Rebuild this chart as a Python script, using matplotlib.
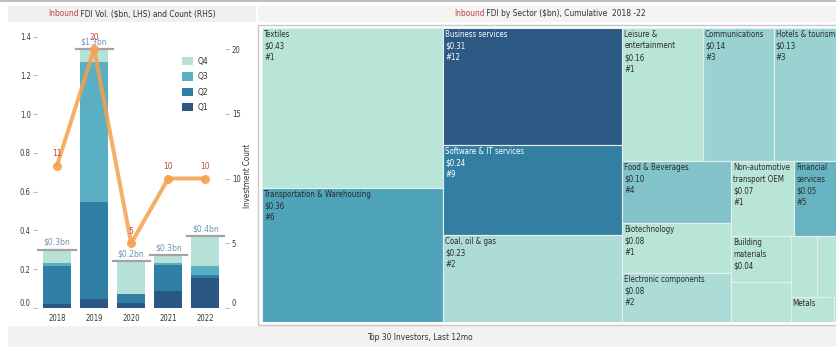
import os
import matplotlib
matplotlib.use('Agg')
import matplotlib.pyplot as plt
from matplotlib import font_manager as fm
from matplotlib.patches import Rectangle, Patch
from matplotlib.colors import LinearSegmentedColormap, Normalize
import numpy as np

# ---------------- font choice (prefer a narrow face like the reference) ----------------
def pick_font():
    prefs = ['liberationsansnarrow-regular', 'dejavusanscondensed.ttf', 'robotocondensed-regular',
             'opensans_condensed-regular', 'opensans-condensedregular', 'notosans-condensed.',
             'notosans-condensed-regular', 'opensans-condensed']
    entries = fm.fontManager.ttflist
    for p in prefs:
        for e in entries:
            if p in os.path.basename(e.fname).lower():
                return e
    for e in entries:
        if e.stretch in ('condensed', 'semi-condensed') and e.style == 'normal' and e.weight in (400, 'normal', 'regular'):
            return e
    return None


fe = pick_font()
if fe is not None:
    plt.rcParams['font.family'] = [fe.name, 'DejaVu Sans']
    plt.rcParams['font.stretch'] = fe.stretch
else:
    plt.rcParams['font.family'] = ['Liberation Sans', 'DejaVu Sans']

# ---------------- data ----------------
years = ['2018', '2019', '2020', '2021', '2022']
q1 = [0.020, 0.047, 0.028, 0.086, 0.155]
q2 = [0.195, 0.500, 0.042, 0.138, 0.015]
q3 = [0.015, 0.720, 0.000, 0.006, 0.045]
q4 = [0.070, 0.067, 0.170, 0.042, 0.155]
total_labels = ['$0.3bn', '$1.3bn', '$0.2bn', '$0.3bn', '$0.4bn']
inv_counts = [11, 20, 5, 10, 10]
left_ticks = [0.0, 0.2, 0.4, 0.6, 0.8, 1.0, 1.2, 1.4]
right_ticks = [0, 5, 10, 15, 20]

sectors = ['Textiles', 'Transportation & Warehousing', 'Business services',
           'Software & IT services', 'Coal, oil & gas', 'Leisure &\nentertainment',
           'Communications', 'Hotels & tourism', 'Food & Beverages', 'Biotechnology',
           'Electronic components', 'Non-automotive\ntransport OEM', 'Financial\nservices',
           'Building\nmaterials', '', '', '', 'Metals', '']
sector_values = [0.43, 0.36, 0.31, 0.24, 0.23, 0.16, 0.14, 0.13, 0.10, 0.08, 0.08,
                 0.07, 0.05, 0.04, 0.035, 0.024, 0.020, 0.016, 0.002]
sector_counts = [1, 6, 12, 9, 2, 1, 3, 3, 4, 1, 2, 1, 5, 1, 1, 1, 1, 1, 1]

# ---------------- style ----------------
Q_COLORS = ['#2a5783', '#2f7ea4', '#5bafc2', '#b5e1d6']
LINE_C = '#f6a04d'
RED = '#c0454a'
DARK = '#333333'
W_PX, H_PX = 837, 347

fig = plt.figure(figsize=(W_PX / 100, H_PX / 100), dpi=100)
fig.patch.set_facecolor('white')
renderer = fig.canvas.get_renderer()


def text_w(s, fs):
    t = fig.text(0, 0, s, fontsize=fs)
    w = t.get_window_extent(renderer).width
    t.remove()
    return w


# font sizes fitted to the widths of texts in the reference
FS = min(8.0, 10 * 168 / text_w('Inbound FDI Vol. ($bn, LHS) and Count (RHS)', 10))
FS_T = min(7.5, 10 * 108 / text_w('Transportation & Warehousing', 10))
FS_TICK = min(7.8, 10 * 17.5 / text_w('2018', 10))
FS_LBL = min(8.0, 10 * 26.5 / text_w('$0.3bn', 10))


def px(x0, y0, x1, y1):
    return [x0 / W_PX, 1 - y1 / H_PX, (x1 - x0) / W_PX, (y1 - y0) / H_PX]


def frect(x0, y0, x1, y1, **kw):
    b = px(x0, y0, x1, y1)
    fig.add_artist(Rectangle((b[0], b[1]), b[2], b[3], transform=fig.transFigure, **kw))


# background bands
fig.add_artist(plt.Line2D([0, 1], [1 - 1 / H_PX] * 2, transform=fig.transFigure, color='#b0b0b0', lw=1.2))
frect(8, 6, 256, 22, facecolor='#f0f0f0', edgecolor='none', zorder=0)
frect(258, 6, 837, 22, facecolor='#f3f3f3', edgecolor='none', zorder=0)
frect(8, 326, 837, 347, facecolor='#f2f2f2', edgecolor='none', zorder=0)
frect(258, 25, 842, 325, facecolor='white', edgecolor='#c8c8c8', lw=1.0, zorder=0)


def two_tone(cx, cy, first, rest, fs):
    t1 = fig.text(0, 0, first, color=RED, fontsize=fs, va='center', ha='left')
    t2 = fig.text(0, 0, rest, color=DARK, fontsize=fs, va='center', ha='left')
    w1 = t1.get_window_extent(renderer).width
    w2 = t2.get_window_extent(renderer).width
    x0 = cx - (w1 + w2) / 2
    t1.set_position((x0 / W_PX, 1 - cy / H_PX))
    t2.set_position(((x0 + w1) / W_PX, 1 - cy / H_PX))


two_tone(132, 14, 'Inbound', ' FDI Vol. ($bn, LHS) and Count (RHS)', FS)
two_tone(550, 14, 'Inbound', ' FDI by Sector ($bn), Cumulative  2018 -22', FS)
fig.text(420 / W_PX, 1 - 337 / H_PX, 'Top 30 Investors, Last 12mo', fontsize=FS,
         color=DARK, ha='center', va='center')

# ---------------- left chart ----------------
ax = fig.add_axes(px(37, 27, 225, 308))
ax.set_facecolor('none')
x = np.arange(len(years))
bottom = np.zeros(len(years))
for vals, c in zip([q1, q2, q3, q4], Q_COLORS):
    ax.bar(x, vals, width=0.76, bottom=bottom, color=c, edgecolor='none', zorder=2)
    bottom += np.array(vals)
for xi, tot, lab in zip(x, bottom, total_labels):
    ax.plot([xi - 0.5, xi + 0.5], [tot, tot], color='#a3a3a3', lw=1.6, zorder=3)
    ax.annotate(lab, (xi, tot), xytext=(0, 7.5), textcoords='offset pixels', ha='center',
                va='center', fontsize=FS_LBL, color='#7192b5', zorder=4)
ax.set_xlim(-0.54, 4.53)
ax.set_ylim(0, 1.45)
ax.set_yticks(left_ticks)
ax.set_yticklabels([f'{t:.1f}' for t in left_ticks])
ax.set_xticks(x)
ax.set_xticklabels(years)
for s in ax.spines.values():
    s.set_visible(False)
ax.tick_params(axis='y', length=3, width=0.8, color='#bbbbbb', labelsize=FS_TICK, labelcolor='#3a3a3a', pad=1.5)
ax.tick_params(axis='x', length=0, labelsize=FS_TICK, labelcolor=DARK, pad=4)
ax.get_yticklabels()[0].set_va('bottom')

ax.legend(handles=[Patch(facecolor=c, edgecolor='none') for c in Q_COLORS[::-1]],
          labels=['Q4', 'Q3', 'Q2', 'Q1'], loc='upper left', bbox_to_anchor=(0.74, 0.915),
          frameon=False, fontsize=FS_LBL, handlelength=1.3, handleheight=1.15,
          handletextpad=0.5, labelspacing=0.75, borderpad=0.2, labelcolor=DARK)

ax2 = ax.twinx()
ax2.set_ylim(0, 21.7)
ax2.set_yticks(right_ticks)
for s in ax2.spines.values():
    s.set_visible(False)
ax2.tick_params(axis='y', length=3, width=0.8, color='#bbbbbb', labelsize=FS_TICK, labelcolor='#3a3a3a', pad=2)
ax2.get_yticklabels()[0].set_va('bottom')
ax2.plot(x, inv_counts, color=LINE_C, lw=2.9, alpha=0.85, marker='o', markersize=5.5,
         solid_capstyle='round', zorder=5)
for xi, c in zip(x, inv_counts):
    ax2.annotate(str(c), (xi, c), xytext=(0, 12), textcoords='offset pixels', ha='center',
                 va='center', fontsize=FS_LBL, color=RED, zorder=6)
ax2.set_ylabel('Investment Count', fontsize=FS_TICK * 1.05, color=DARK)
ax2.yaxis.set_label_coords(1.095, 0.47)

# ---------------- treemap ----------------
tax = fig.add_axes(px(262, 28, 839.5, 322))
bb = tax.get_window_extent(renderer)
TW, TH = bb.width, bb.height
tax.set_xlim(0, TW)
tax.set_ylim(0, TH)
tax.axis('off')

LIMIT = 2.8


def worst(row, side):
    thick = sum(row) / side
    return max(max(thick / (a / thick), (a / thick) / thick) for a in row)


def layout(values, x0, y0, w, h):
    total = sum(values)
    areas = [v * w * h / total for v in values]
    rects = []
    i = 0
    while i < len(areas):
        vertical = w >= h
        side = h if vertical else w
        row = [areas[i]]
        j = i + 1
        while j < len(areas):
            cand = row + [areas[j]]
            wc = worst(cand, side)
            if wc <= worst(row, side) or wc <= LIMIT:
                row = cand
                j += 1
            else:
                break
        thick = sum(row) / side
        if vertical:
            yy = y0 + h
            for a in row:
                hh = a / thick
                rects.append((x0, yy - hh, thick, hh))
                yy -= hh
            x0 += thick
            w -= thick
        else:
            xx = x0
            for a in row:
                ww = a / thick
                rects.append((xx, y0 + h - thick, ww, thick))
                xx += ww
            h -= thick
        i = j
    return rects


cmap = LinearSegmentedColormap.from_list(
    'tm', [(0.0, '#b9e4d8'), (0.15, '#a3d7d3'), (0.45, '#4fa5bb'), (0.73, '#337fa3'), (1.0, '#2c5984')])
norm = Normalize(1, 12)
rects = layout(sector_values, 0, 0, TW, TH)
LH = 11.5
for (rx, ry, rw, rh), name, v, c in zip(rects, sectors, sector_values, sector_counts):
    tax.add_patch(Rectangle((rx, ry), rw, rh, facecolor=cmap(norm(c)), edgecolor='#e4f0ee',
                            lw=0.8))
    if not name:
        continue
    lines = name.split('\n') + [f'${v:.2f}', f'#{c}']
    n = len(lines)
    while n > 0 and 4 + n * LH > rh:
        n -= 1
    tc = 'white' if c >= 9 else '#2a2a2a'
    for k in range(n):
        tax.annotate(lines[k], (rx, ry + rh), xytext=(2, -2 - k * LH), textcoords='offset pixels',
                     ha='left', va='top', fontsize=FS_T, color=tc)

fig.savefig('out.png', dpi=100)
